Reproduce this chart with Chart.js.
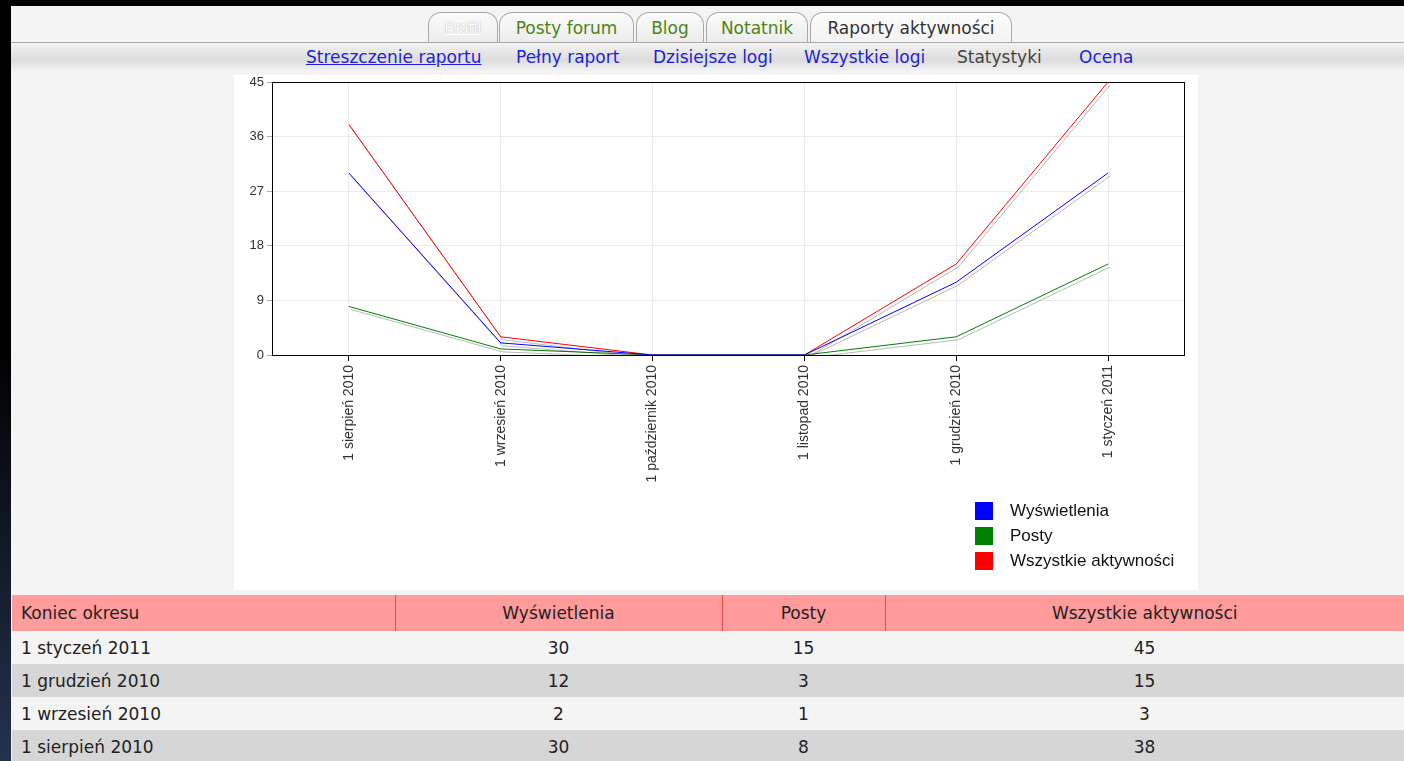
<!DOCTYPE html>
<html lang="pl">
<head>
<meta charset="utf-8">
<title>Statystyki</title>
<script src="https://cdn.jsdelivr.net/npm/chart.js@4.4.1/dist/chart.umd.min.js"></script>
<style>
  html, body { margin: 0; padding: 0; width: 1404px; height: 761px; overflow: hidden; }
  body {
    background: linear-gradient(#000 0%, #000 45%, #24324f 100%);
    font-family: 'DejaVu Sans', Verdana, sans-serif;
    font-size: 17px;
    color: #222;
  }
  .abs { position: absolute; }
  #page { left: 11px; top: 6px; right: 0; bottom: 0; background: #f4f4f4; }
  #tabline { left: 11px; right: 0; top: 42px; height: 1px; background: #aaa; }
  #subnav {
    left: 11px; right: 0; top: 43px; height: 28px;
    background: linear-gradient(#f3f3f3 0%, #e2e2e2 45%, #dcdcdc 60%, #f2f2f2 100%);
  }
  .tab {
    top: 12px; height: 29px; line-height: 30px; text-align: center;
    border: 1px solid #a9a9a9; border-bottom: none;
    border-radius: 13px 13px 0 0;
    background: linear-gradient(#fbfbfb, #ececec);
    color: #4e8412;
  }
  .tab.first { color: #fff; text-decoration: underline; text-shadow: 0 0 1px #999; font-size: 15px; }
  .tab.active { color: #333; background: linear-gradient(#fdfdfd, #f2f2f2); }
  .sub { top: 43px; line-height: 29px; color: #1f1fd8; white-space: nowrap; }
  .sub.u { text-decoration: underline; }
  .sub.cur { color: #444; }
  #chartbox { left: 234px; top: 75px; width: 964px; height: 515px; background: #fff; }
  #chartbox canvas { position: absolute; left: 0; top: 0; }
  .leg { left: 741px; height: 18px; font-family: 'Liberation Sans', Arial, sans-serif; font-size: 17px; color: #111; white-space: nowrap; }
  .leg i { position: absolute; left: 0; top: 0; width: 18px; height: 18px; }
  .leg span { position: absolute; left: 35px; top: -1px; line-height: 20px; }
  #stats { left: 12px; top: 595px; width: 1392px; border-collapse: collapse; table-layout: fixed; }
  #stats th { background: #ff9b9b; font-weight: normal; height: 36px; padding: 0; border-left: 1px solid #e84848; }
  #stats th:first-child { border-left: none; text-align: left; padding-left: 9px; }
  #stats td { height: 33px; padding: 0; text-align: center; }
  #stats td:first-child { text-align: left; padding-left: 9px; }
  #stats tr.r0 td { background: #f4f4f4; }
  #stats tr.r1 td { background: #d6d6d6; }
</style>
</head>
<body>
<div id="page" class="abs"></div>
<div id="tabline" class="abs"></div>
<div class="abs tab first" style="left:428px;width:68px;">Profil</div>
<div class="abs tab" style="left:499px;width:133px;">Posty forum</div>
<div class="abs tab" style="left:636px;width:66px;">Blog</div>
<div class="abs tab" style="left:706px;width:100px;">Notatnik</div>
<div class="abs tab active" style="left:810px;width:200px;">Raporty aktywności</div>
<div id="subnav" class="abs"></div>
<div class="abs sub u" style="left:306px;">Streszczenie raportu</div>
<div class="abs sub" style="left:516px;">Pełny raport</div>
<div class="abs sub" style="left:653px;">Dzisiejsze logi</div>
<div class="abs sub" style="left:804px;">Wszystkie logi</div>
<div class="abs sub cur" style="left:957px;">Statystyki</div>
<div class="abs sub" style="left:1079px;">Ocena</div>

<div id="chartbox" class="abs">
  <canvas id="activity-chart" width="964" height="515"></canvas>
</div>

<table id="stats" class="abs">
  <colgroup><col style="width:383px"><col style="width:327px"><col style="width:163px"><col style="width:519px"></colgroup>
  <thead><tr id="stats-head"></tr></thead>
  <tbody id="stats-body"></tbody>
</table>

<script>
// Chart data
const categories = ['1 sierpień 2010', '1 wrzesień 2010', '1 październik 2010', '1 listopad 2010', '1 grudzień 2010', '1 styczeń 2011'];
const viewsData = [30, 2, 0, 0, 12, 30];
const postsData = [8, 1, 0, 0, 3, 15];
const allData = [38, 3, 0, 0, 15, 45];
const seriesNames = ['Wyświetlenia', 'Posty', 'Wszystkie aktywności'];
const seriesColors = ['#0000ff', '#008000', '#ff0000'];
const yTicks = [0, 9, 18, 27, 36, 45];
const periodHeader = 'Koniec okresu';

document.addEventListener('DOMContentLoaded', function () {
  const series = [viewsData, postsData, allData];
  const box = document.getElementById('chartbox');

  // Legend, one row per series
  seriesNames.forEach(function (name, i) {
    const item = document.createElement('div');
    item.className = 'abs leg';
    item.style.top = (427 + i * 25) + 'px';
    item.innerHTML = '<i style="background:' + seriesColors[i] + '"></i><span>' + name + '</span>';
    box.appendChild(item);
  });

  // Soft grey shadow under each line
  const lineShadow = {
    id: 'lineShadow',
    beforeDatasetDraw(chart) {
      const ctx = chart.ctx;
      ctx.save();
      ctx.shadowColor = 'rgba(0, 0, 0, 0.28)';
      ctx.shadowOffsetX = 2;
      ctx.shadowOffsetY = 3;
      ctx.shadowBlur = 0;
    },
    afterDatasetDraw(chart) {
      chart.ctx.restore();
    }
  };

  // Black box round the plot area
  const plotFrame = {
    id: 'plotFrame',
    beforeDatasetsDraw(chart) {
      const a = chart.chartArea;
      const ctx = chart.ctx;
      ctx.save();
      ctx.strokeStyle = '#000';
      ctx.lineWidth = 1;
      ctx.strokeRect(Math.round(a.left) - 0.5, Math.round(a.top) + 0.5,
        Math.round(a.right - a.left) + 1, Math.round(a.bottom - a.top));
      ctx.restore();
    }
  };

  Chart.defaults.font.family = "'Liberation Sans', Arial, sans-serif";

  new Chart(document.getElementById('activity-chart'), {
    type: 'line',
    data: {
      labels: categories,
      datasets: series.map(function (data, i) {
        return {
          label: seriesNames[i],
          data: data,
          borderColor: seriesColors[i],
          backgroundColor: seriesColors[i],
          borderWidth: 1,
          pointRadius: 0,
          tension: 0,
          fill: false
        };
      })
    },
    options: {
      responsive: false,
      animation: false,
      layout: { padding: { top: 7, right: 14, left: 0, bottom: 0 } },
      plugins: { legend: { display: false }, tooltip: { enabled: false } },
      scales: {
        x: {
          offset: true,
          border: { display: false },
          grid: { offset: false, color: '#ececec', tickColor: '#000', tickLength: 6 },
          ticks: { minRotation: 90, maxRotation: 90, autoSkip: false, padding: 4, color: '#333', font: { size: 14 } },
          afterFit(scale) { scale.height = 235; }
        },
        y: {
          min: 0,
          max: 45,
          border: { display: false },
          grid: { color: '#ececec', tickColor: '#aaa', tickLength: 6 },
          ticks: { color: '#333', padding: 3, font: { size: 13 } },
          afterBuildTicks(scale) { scale.ticks = yTicks.map(v => ({ value: v })); },
          afterFit(scale) {
            scale.width = 39;
            scale.paddingTop = 0;
            scale.paddingBottom = 0;
          }
        }
      }
    },
    plugins: [lineShadow, plotFrame]
  });

  // Table below the chart: latest period first, empty periods left out
  const head = document.getElementById('stats-head');
  [periodHeader].concat(seriesNames).forEach(function (t) {
    const th = document.createElement('th');
    th.textContent = t;
    head.appendChild(th);
  });
  const body = document.getElementById('stats-body');
  let row = 0;
  for (let i = categories.length - 1; i >= 0; i--) {
    if (allData[i] === 0) continue;
    const tr = document.createElement('tr');
    tr.className = 'r' + (row % 2);
    [categories[i], viewsData[i], postsData[i], allData[i]].forEach(function (v) {
      const td = document.createElement('td');
      td.textContent = v;
      tr.appendChild(td);
    });
    body.appendChild(tr);
    row++;
  }
});
</script>
</body>
</html>
